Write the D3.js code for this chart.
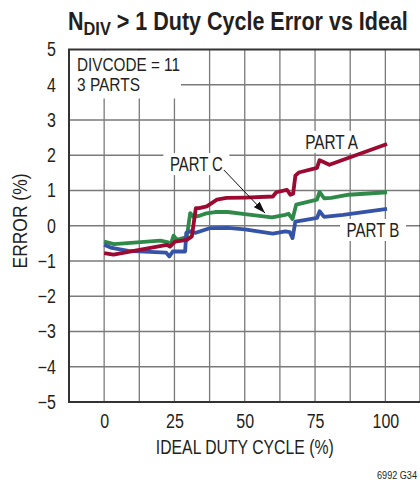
<!DOCTYPE html>
<html>
<head>
<meta charset="utf-8">
<script src="https://cdn.jsdelivr.net/npm/d3@7"></script>
<style>
  html, body { margin: 0; padding: 0; background: #fff; }
  svg { display: block; }
</style>
</head>
<body>
<svg id="chart" width="420" height="484"></svg>
<script>
// Duty cycle error (%) vs ideal duty cycle (%), NDIV > 1, DIVCODE = 11, three parts
const partA = [
  [0, -0.78], [3.3, -0.82], [22.3, -0.54], [23.4, -0.59], [25.2, -0.45], [29.4, -0.40],
  [31.2, -0.30], [32.6, 0.50], [33.8, 0.50], [36.5, 0.55], [40.1, 0.74], [43.5, 0.79],
  [50, 0.80], [60, 0.83], [61.2, 0.95], [65, 1.02], [66.2, 0.88], [67.2, 0.91],
  [68.0, 1.42], [69.2, 1.51], [75.7, 1.64], [76.6, 1.86], [78.2, 1.80], [80.1, 1.73],
  [100.6, 2.32]
];
const partB = [
  [0, -0.54], [2.7, -0.63], [8.6, -0.71], [22, -0.76], [23.2, -0.87], [24.4, -0.73],
  [28.8, -0.73], [29.2, -0.20], [30.6, -0.16], [32.6, -0.20], [37.5, -0.07], [44, -0.06],
  [50, -0.10], [60, -0.22], [64.4, -0.16], [66, -0.18], [67, -0.35], [68, 0.12],
  [71.7, 0.17], [75.7, 0.22], [76.6, 0.41], [78.2, 0.25], [85, 0.31], [100.6, 0.48]
];
const partC = [
  [0, -0.45], [3.5, -0.52], [20, -0.42], [22.8, -0.47], [23.5, -0.57], [24.7, -0.28],
  [25.9, -0.40], [29.4, -0.32], [30.6, 0.36], [31.8, 0.25], [34.1, 0.29], [36.3, 0.35],
  [39.5, 0.39], [44, 0.39], [50, 0.33], [59.7, 0.24], [64.4, 0.31], [65.6, 0.34],
  [67, 0.19], [68.3, 0.60], [75.7, 0.74], [76.6, 0.96], [78.2, 0.78], [80.7, 0.79],
  [87, 0.88], [100.6, 0.95]
];
const xTicks = [0, 25, 50, 75, 100];
const yTicks = [-5, -4, -3, -2, -1, 0, 1, 2, 3, 4, 5];

const FONT = "'Liberation Sans', Arial, Helvetica, sans-serif";
const INK = "#231f20";
const NARROW = 0.82; // horizontal squeeze for a condensed look

const svg = d3.select("#chart");
const plotL = 69, plotR = 420.5, plotT = 49.5, plotB = 402;

const x = d3.scaleLinear().domain([-12.5, 112.5]).range([plotL, plotR]);
const y = d3.scaleLinear().domain([-5, 5]).range([plotB, plotT]);

// squeeze a text horizontally about its own anchor point; width sets the
// final advance width, otherwise the standard NARROW factor is used
function condense(sel, width) {
  sel.each(function () {
    const t = d3.select(this);
    const ax = +t.attr("x") || 0, ay = +t.attr("y") || 0;
    const k = width ? width / this.getComputedTextLength() : NARROW;
    const prev = t.attr("transform") || "";
    t.attr("x", 0).attr("y", 0)
      .attr("transform", `${prev} translate(${ax},${ay}) scale(${k},1)`);
  });
}

// grid: vertical every 12.5 %, horizontal every 1 %
const gx = d3.range(0, 100.01, 12.5);
const gy = d3.range(-4, 4.01, 1);
const grid = svg.append("g").attr("stroke", "#7a7a7a").attr("stroke-width", 1.3);
grid.selectAll("line.v").data(gx).join("line").attr("class", "v")
  .attr("x1", d => x(d)).attr("x2", d => x(d))
  .attr("y1", plotT).attr("y2", plotB);
grid.selectAll("line.h").data(gy).join("line").attr("class", "h")
  .attr("x1", plotL).attr("x2", plotR)
  .attr("y1", d => y(d)).attr("y2", d => y(d));

// white panel behind the condition text
svg.append("rect").attr("x", plotL + 1).attr("y", plotT + 1)
  .attr("width", 111).attr("height", 48).attr("fill", "#fff");

// frame
svg.append("rect").attr("x", plotL).attr("y", plotT)
  .attr("width", plotR - plotL).attr("height", plotB - plotT)
  .attr("fill", "none").attr("stroke", "#333").attr("stroke-width", 2);

// axes (labels only)
const xAxis = svg.append("g").attr("transform", `translate(0,${plotB})`)
  .call(d3.axisBottom(x).tickValues(xTicks).tickSize(0).tickPadding(12));
const yAxis = svg.append("g").attr("transform", `translate(${plotL},0)`)
  .call(d3.axisLeft(y).tickValues(yTicks).tickSize(0).tickPadding(13));
[xAxis, yAxis].forEach(a => {
  a.select(".domain").remove();
  a.selectAll("text").attr("font-family", FONT).attr("font-size", 19.5).attr("fill", INK);
});
xAxis.selectAll("text").attr("transform", `scale(${NARROW},1)`);
yAxis.selectAll("text").attr("transform", `scale(${NARROW},1)`).attr("x", -13 / NARROW);

// condition text
const cond = svg.append("g").attr("font-family", FONT).attr("font-size", 17.5).attr("fill", INK);
condense(cond.append("text").attr("x", 77).attr("y", 71).text("DIVCODE = 11"), 103);
condense(cond.append("text").attr("x", 77).attr("y", 91).text("3 PARTS"), 63);

// curve labels with white backing boxes
const labels = [
  { text: "PART A", x: 80.9, y: 2.38 },
  { text: "PART B", x: 95.6, y: -0.12 },
  { text: "PART C", x: 32.8, y: 1.75 }
];
const lab = svg.append("g").attr("font-family", FONT).attr("font-size", 19.5).attr("fill", INK);
labels.forEach(l => {
  const g = lab.append("g");
  const cx = x(l.x), cy = y(l.y);
  const t = g.append("text").attr("x", cx).attr("y", cy + 7)
    .attr("text-anchor", "middle").text(l.text);
  condense(t, 53);
  g.insert("rect", "text").attr("x", cx - 33).attr("y", cy - 11)
    .attr("width", 66).attr("height", 22).attr("fill", "#fff");
});

// series
const line = d3.line().x(d => x(d[0])).y(d => y(d[1]));
const series = [
  { data: partC, color: "#2f8a4a" },
  { data: partB, color: "#3654a7" },
  { data: partA, color: "#9c0a32" }
];
svg.append("g").attr("fill", "none").attr("stroke-width", 3.8)
  .attr("stroke-linejoin", "round").attr("stroke-linecap", "butt")
  .selectAll("path").data(series).join("path")
  .attr("stroke", d => d.color).attr("d", d => line(d.data));

// arrow from the PART C label to its curve
svg.append("defs").append("marker").attr("id", "head")
  .attr("viewBox", "0 0 12 8").attr("refX", 12).attr("refY", 4)
  .attr("markerWidth", 12).attr("markerHeight", 8).attr("markerUnits", "userSpaceOnUse")
  .attr("orient", "auto")
  .append("path").attr("d", "M0,0L12,4L0,8Z").attr("fill", "#111");
svg.append("line")
  .attr("x1", x(42.6)).attr("y1", y(1.58))
  .attr("x2", x(57.2)).attr("y2", y(0.36))
  .attr("stroke", "#111").attr("stroke-width", 1)
  .attr("marker-end", "url(#head)");

// title
const title = svg.append("text").attr("x", 68).attr("y", 30)
  .attr("font-family", FONT).attr("font-weight", "bold").attr("font-size", 25).attr("fill", INK);
title.append("tspan").text("N");
title.append("tspan").attr("font-size", 19).attr("dy", 5).text("DIV");
title.append("tspan").attr("dy", -5).text(" > 1 Duty Cycle Error vs Ideal");
condense(title, 340);

// axis titles
condense(svg.append("text").attr("x", x(50)).attr("y", 454)
  .attr("text-anchor", "middle").attr("font-family", FONT).attr("font-size", 19.5)
  .attr("fill", INK).text("IDEAL DUTY CYCLE (%)"), 178);
const yTitle = svg.append("text").attr("transform", "translate(27,221) rotate(-90)")
  .attr("text-anchor", "middle").attr("font-family", FONT).attr("font-size", 19.5)
  .attr("fill", INK).text("ERROR (%)");
yTitle.attr("transform", `translate(27,221) rotate(-90) scale(${95 / yTitle.node().getComputedTextLength()},1)`);

// figure code
condense(svg.append("text").attr("x", 417).attr("y", 479).attr("text-anchor", "end")
  .attr("font-family", FONT).attr("font-size", 11.5).attr("fill", INK).text("6992 G34"), 40);
</script>
</body>
</html>
